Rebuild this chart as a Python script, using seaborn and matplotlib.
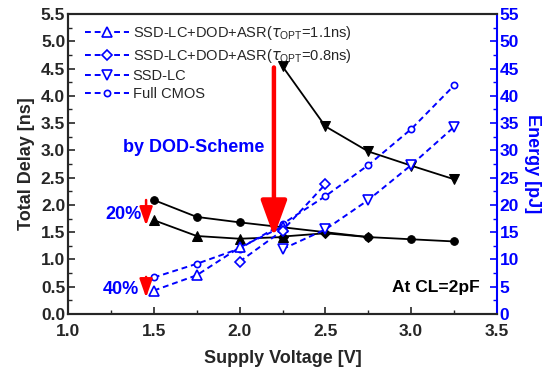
import numpy as np
import pandas as pd
import matplotlib
matplotlib.use('Agg')
import matplotlib.pyplot as plt
import seaborn as sns
from matplotlib.lines import Line2D

sns.set_style('ticks')
plt.rcParams['font.family'] = ['Liberation Sans', 'DejaVu Sans']

# ---- Delay data (left axis, ns) ----
v_full_d = [1.5, 1.75, 2.0, 2.75, 3.0, 3.25]
delay_full = [2.09, 1.78, 1.68, 1.41, 1.37, 1.33]
v_asr11_d = [1.5, 1.75, 2.0, 2.25]
delay_asr11 = [1.72, 1.43, 1.38, 1.41]
v_asr08_d = [2.25, 2.5, 2.75]
delay_asr08 = [1.42, 1.48, 1.41]
v_ssd_d = [2.25, 2.5, 2.75, 3.0, 3.25]
delay_ssd = [4.54, 3.44, 2.98, 2.72, 2.47]

# ---- Energy data (right axis, pJ) ----
v_full_e = [1.5, 1.75, 2.0, 2.25, 2.5, 2.75, 3.0, 3.25]
energy_full = [6.7, 9.2, 12.0, 16.5, 21.6, 27.3, 33.9, 41.9]
v_asr11_e = [1.5, 1.75, 2.0, 2.25]
energy_asr11 = [4.3, 7.1, 12.2, 16.0]
v_asr08_e = [2.0, 2.25, 2.5]
energy_asr08 = [9.6, 15.3, 23.8]
v_ssd_e = [2.25, 2.5, 2.75, 3.0, 3.25]
energy_ssd = [11.9, 15.5, 20.9, 27.3, 34.3]

labels = [r'SSD-LC+DOD+ASR($\tau_{\mathregular{OPT}}$=1.1ns)',
          r'SSD-LC+DOD+ASR($\tau_{\mathregular{OPT}}$=0.8ns)',
          'SSD-LC', 'Full CMOS']

BLUE = '#0000ff'
fig = plt.figure(figsize=(5.46, 3.74), dpi=100)
ax1 = fig.add_axes([68/546, 60/374, 429/546, 300/374])
ax2 = ax1.twinx()

# black delay curves
for xs, ys, mk, ms in [(v_full_d, delay_full, 'o', 5.5),
                       (v_asr11_d, delay_asr11, '^', 7),
                       (v_asr08_d, delay_asr08, 'D', 5.5),
                       (v_ssd_d, delay_ssd, 'v', 7.5)]:
    sns.lineplot(x=xs, y=ys, ax=ax1, color='black', marker=mk, markersize=ms,
                 markeredgecolor='black', markerfacecolor='black', lw=1.3,
                 estimator=None, sort=False)

dash = (0, (3, 2))
for xs, ys, mk, ms in [(v_full_e, energy_full, 'o', 4.5),
                       (v_asr11_e, energy_asr11, '^', 7),
                       (v_asr08_e, energy_asr08, 'D', 5.5),
                       (v_ssd_e, energy_ssd, 'v', 7)]:
    sns.lineplot(x=xs, y=ys, ax=ax2, color=BLUE, marker=mk, markersize=ms,
                 markeredgecolor=BLUE, markerfacecolor='white', markeredgewidth=1.2,
                 lw=1.4, linestyle=dash, estimator=None, sort=False)

ax1.set_xlim(1.0, 3.5)
ax1.set_ylim(0, 5.5)
ax2.set_ylim(0, 55)
ax1.set_xticks(np.arange(1.0, 3.51, 0.5))
ax1.set_xticks(np.arange(1.0, 3.51, 0.25), minor=True)
ax1.set_yticks(np.arange(0, 5.51, 0.5))
ax1.set_yticks(np.arange(0, 5.51, 0.25), minor=True)
ax2.set_yticks(np.arange(0, 56, 5))
ax2.set_yticks(np.arange(0, 56, 2.5), minor=True)
ax1.xaxis.set_major_formatter(matplotlib.ticker.FormatStrFormatter('%.1f'))
ax1.yaxis.set_major_formatter(matplotlib.ticker.FormatStrFormatter('%.1f'))

for ax in (ax1, ax2):
    ax.tick_params(which='major', direction='in', length=5, width=1.2, labelsize=12.5)
    ax.tick_params(which='minor', direction='in', length=3, width=1.0)
    for lab in ax.get_xticklabels() + ax.get_yticklabels():
        lab.set_fontweight('bold')
ax1.tick_params(axis='x', pad=7)
ax1.tick_params(axis='y', pad=2)
ax2.tick_params(axis='y', which='both', colors=BLUE, pad=2)
for lab in ax2.get_yticklabels():
    lab.set_color(BLUE)

for s in ['left', 'bottom', 'top']:
    ax1.spines[s].set_linewidth(1.5)
    ax2.spines[s].set_linewidth(1.5)
ax2.spines['right'].set_color(BLUE)
ax2.spines['right'].set_linewidth(1.5)
ax1.spines['right'].set_visible(False)

ax1.set_xlabel('Supply Voltage [V]', fontsize=13, fontweight='bold', labelpad=8)
ax1.set_ylabel('Total Delay [ns]', fontsize=13, fontweight='bold', labelpad=4)
ax2.set_ylabel('Energy [pJ]', fontsize=13, fontweight='bold', color=BLUE,
               rotation=270, labelpad=16)

# legend
handles = [Line2D([], [], color=BLUE, linestyle=dash, lw=1.4, marker=m,
                  markersize=ms, markerfacecolor='white', markeredgecolor=BLUE,
                  markeredgewidth=1.2)
           for m, ms in [('^', 7), ('D', 5.5), ('v', 7), ('o', 4.5)]]
ax2.legend(handles, labels, loc='upper left', bbox_to_anchor=(0.02, 0.995),
           frameon=False, fontsize=10.5, handlelength=3.0, handletextpad=0.25,
           labelspacing=0.3, borderaxespad=0.2, numpoints=1)

# annotations (drawn on top axis using delay coordinates)
tr = ax1.transData
ax2.annotate('', xy=(2.2, 1.42), xytext=(2.2, 4.52), xycoords=tr, textcoords=tr,
             arrowprops=dict(arrowstyle='-|>,head_width=0.4,head_length=1.1',
                             lw=3.2, color='red', shrinkA=0, shrinkB=0,
                             mutation_scale=20))
ax2.annotate('', xy=(1.455, 1.62), xytext=(1.455, 2.09), xycoords=tr, textcoords=tr,
             arrowprops=dict(arrowstyle='-|>,head_width=0.28,head_length=0.8',
                             lw=1.8, color='red', shrinkA=0, shrinkB=0,
                             mutation_scale=14))
ax2.annotate('', xy=(1.455, 0.30), xytext=(1.455, 0.68), xycoords=tr, textcoords=tr,
             arrowprops=dict(arrowstyle='-|>,head_width=0.28,head_length=0.8',
                             lw=1.8, color='red', shrinkA=0, shrinkB=0,
                             mutation_scale=14))
ax2.text(1.73, 3.05, 'by DOD-Scheme', transform=tr, color=BLUE, fontsize=13,
         fontweight='bold', ha='center', va='center')
ax2.text(1.326, 1.83, '20%', transform=tr, color=BLUE, fontsize=13,
         fontweight='bold', ha='center', va='center')
ax2.text(1.31, 0.44, '40%', transform=tr, color=BLUE, fontsize=13,
         fontweight='bold', ha='center', va='center')
ax2.text(3.145, 0.48, 'At CL=2pF', transform=tr, color='black', fontsize=12.5,
         fontweight='bold', ha='center', va='center')

fig.savefig('out.png', dpi=100)
